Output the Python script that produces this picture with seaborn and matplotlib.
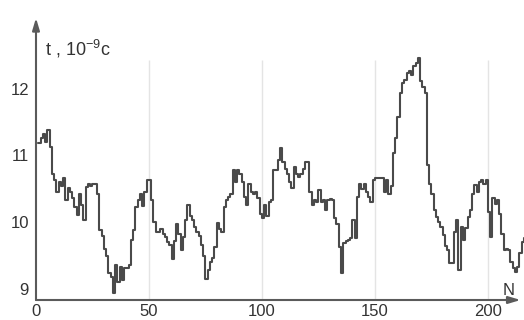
import numpy as np
import pandas as pd
import matplotlib
matplotlib.use("Agg")
import matplotlib.pyplot as plt
import seaborn as sns

# Pulse delay t (units of 1e-9 s) for successive measurements N
t_values = [
    11.18, 11.26, 11.32, 11.20, 11.38, 11.12, 10.73, 10.64, 10.46, 10.60,
    10.55, 10.66, 10.33, 10.51, 10.45, 10.36, 10.23, 10.11, 10.43, 10.26,
    10.03, 10.53, 10.58, 10.55, 10.58, 10.58, 10.43, 9.88, 9.80, 9.60,
    9.50, 9.24, 9.18, 8.94, 9.36, 9.11, 9.33, 9.13, 9.31, 9.31,
    9.36, 9.73, 9.88, 10.23, 10.33, 10.43, 10.25, 10.46, 10.63, 10.63,
    10.33, 10.00, 9.86, 9.86, 9.90, 9.83, 9.78, 9.70, 9.66, 9.45,
    9.72, 9.98, 9.83, 9.58, 9.78, 10.03, 10.26, 10.10, 10.03, 9.93,
    9.85, 9.80, 9.66, 9.50, 9.15, 9.28, 9.40, 9.47, 9.63, 9.99,
    9.90, 9.86, 10.23, 10.33, 10.38, 10.43, 10.78, 10.60, 10.78, 10.72,
    10.60, 10.38, 10.26, 10.58, 10.45, 10.43, 10.45, 10.36, 10.13, 10.06,
    10.26, 10.10, 10.30, 10.33, 10.78, 10.78, 10.93, 11.11, 10.90, 10.80,
    10.72, 10.60, 10.51, 10.83, 10.72, 10.68, 10.72, 10.80, 10.91, 10.91,
    10.46, 10.26, 10.33, 10.30, 10.48, 10.30, 10.33, 10.18, 10.33, 10.35,
    10.33, 10.06, 9.98, 9.63, 9.24, 9.69, 9.72, 9.74, 9.76, 10.03,
    9.76, 10.38, 10.58, 10.50, 10.58, 10.45, 10.38, 10.31, 10.63, 10.66,
    10.66, 10.66, 10.66, 10.45, 10.63, 10.43, 10.55, 11.03, 11.26, 11.58,
    11.93, 12.08, 12.13, 12.23, 12.26, 12.21, 12.34, 12.38, 12.46, 12.11,
    12.03, 11.93, 10.86, 10.58, 10.43, 10.18, 10.08, 10.01, 9.93, 9.81,
    9.64, 9.58, 9.39, 9.39, 9.86, 10.03, 9.28, 9.93, 9.73, 9.91,
    10.08, 10.18, 10.43, 10.56, 10.46, 10.61, 10.63, 10.58, 10.63, 10.16,
    9.78, 10.36, 10.28, 10.33, 10.13, 9.83, 9.58, 9.60, 9.58, 9.41,
    9.31, 9.26, 9.33, 9.54, 9.71, 9.76,
]
n_values = list(range(1, len(t_values) + 1))

x_ticks = [0, 50, 100, 150, 200]
y_ticks = [9, 10, 11, 12]
grid_x = [50, 100, 150, 200]

df = pd.DataFrame({"N": n_values, "t": t_values})

sns.set_theme(style="white")
plt.rcParams["font.family"] = ["Liberation Sans", "DejaVu Sans"]

fig = plt.figure(figsize=(5.24, 3.20), dpi=100)
ax = fig.add_axes([36 / 524, 20 / 320, 488 / 524, 282 / 320])

axis_color = "#5a5a5a"
line_color = "#4a4a4a"

ax.set_xlim(0, 216)
ax.set_ylim(8.835, 13.06)

# light vertical guides
ax.vlines(grid_x, 8.835, 12.43, colors="#e4e4e4", linewidth=1.0, zorder=0)

sns.lineplot(data=df, x="N", y="t", drawstyle="steps-post",
             color=line_color, linewidth=1.5, ax=ax, zorder=3)

for side in ["left", "bottom", "top", "right"]:
    ax.spines[side].set_visible(False)

# axes drawn as arrows
ax.annotate("", xy=(0.993, 0), xytext=(0, 0), xycoords="axes fraction",
            arrowprops=dict(arrowstyle="-|>,head_length=0.6,head_width=0.18",
                            color=axis_color, lw=1.5, shrinkA=0, shrinkB=0))
ax.annotate("", xy=(0, 1.0), xytext=(0, 0), xycoords="axes fraction",
            arrowprops=dict(arrowstyle="-|>,head_length=0.6,head_width=0.18",
                            color=axis_color, lw=1.5, shrinkA=0, shrinkB=0))

ax.set_xticks(x_ticks)
ax.set_yticks(y_ticks)
ax.set_xticklabels([str(v) for v in x_ticks])
ax.set_yticklabels([str(v) for v in y_ticks])
ax.tick_params(axis="both", length=0, labelsize=12, colors="#333333")
ax.tick_params(axis="x", pad=3)
ax.tick_params(axis="y", pad=5)
ax.set_xlabel("")
ax.set_ylabel("")
ax.grid(False)

ax.text(4, 12.6, r"t , 10$^{\mathregular{-9}}$c", fontsize=13, color="#333333",
        ha="left", va="center")
ax.text(209, 8.98, "N", fontsize=12, color="#333333", ha="center", va="center")

fig.savefig("out.png", dpi=100, facecolor="white")
